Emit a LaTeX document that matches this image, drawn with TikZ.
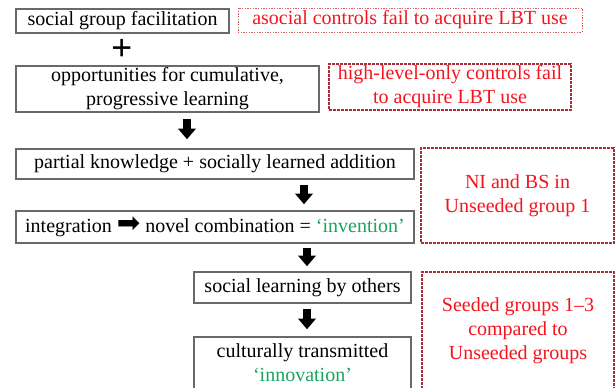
\documentclass[tikz,border=0pt]{standalone}
\usepackage{fontspec}
\setmainfont{Liberation Serif}
\newfontfamily\symfont{DejaVu Sans}
\usetikzlibrary{arrows.meta,calc}

\definecolor{boxgray}{RGB}{105,105,105}
\definecolor{ctrlred}{RGB}{245,20,30}
\definecolor{ctrlframe}{RGB}{170,45,55}
\definecolor{dotframe}{RGB}{215,95,100}
\definecolor{inventgreen}{RGB}{25,165,95}

\tikzset{every picture/.style={line width=0.75pt},
  stagebox/.style={draw=boxgray,line width=1.1pt,inner sep=0pt,align=center,font=\fontsize{15}{18}\selectfont},
  ctrlbox/.style={draw=ctrlframe,dash pattern=on 2pt off 1pt,line width=1.1pt,inner sep=0pt,align=center,text=ctrlred,font=\fontsize{15}{18}\selectfont},
  bigarrow/.style={line width=5.5pt,-{Triangle[width=13pt,length=8pt]}}
}

\begin{document}
\begin{tikzpicture}[x=0.75pt,y=0.75pt,yscale=-1,xscale=1]
        \useasboundingbox (0,0) rectangle (615,387);

        %Shape: Rectangle [id:box1]
        \node [stagebox,minimum width=159.75pt,minimum height=18pt] (facil) at (122.5,21) {social group facilitation};
        %Shape: Rectangle [id:red1]
        \node [ctrlbox,draw=dotframe,line width=0.6pt,dash pattern=on 1pt off 1pt,minimum width=258pt,minimum height=18pt] (asocial) at (410,20) {asocial controls fail to acquire LBT use};

        % Text Node
        \node [inner sep=0pt,font=\fontsize{28}{28}\selectfont\bfseries] (plus) at (122,50) {+};

        %Shape: Rectangle [id:box2]
        \node [stagebox,minimum width=227.25pt,minimum height=34.5pt] (oppor) at (167.5,89) {opportunities for cumulative,\\progressive learning};
        %Shape: Rectangle [id:red2]
        \node [ctrlbox,minimum width=181.5pt,minimum height=34.5pt] (highlvl) at (450,87) {high-level-only controls fail\\to acquire LBT use};

        %Shape: Rectangle [id:box3]
        \node [stagebox,minimum width=298.5pt,minimum height=22.5pt] (partial) at (215,164) {partial knowledge + socially learned addition};
        %Shape: Rectangle [id:box4]
        \node [stagebox,minimum width=298.5pt,minimum height=24pt] (integ) at (215,227) {integration {\symfont\fontsize{21}{18}\selectfont ➡} novel combination = \textcolor{inventgreen}{`invention'}};
        %Shape: Rectangle [id:red3]
        \node [ctrlbox,minimum width=144.75pt,minimum height=71.25pt] (unseeded) at (517.5,195.5) {NI and BS in\\Unseeded group 1};

        %Shape: Rectangle [id:box5]
        \node [stagebox,minimum width=162.75pt,minimum height=23.25pt] (social) at (302.5,287.5) {social learning by others};
        %Shape: Rectangle [id:box6]
        \node [stagebox,minimum width=162.75pt,minimum height=39pt] (cultur) at (302.5,363) {culturally transmitted\\\textcolor{inventgreen}{`innovation'}};
        %Shape: Rectangle [id:red4]
        \node [ctrlbox,minimum width=144pt,minimum height=88.5pt] (seeded) at (518,331) {Seeded groups 1--3\\compared to\\Unseeded groups};

        %Straight Lines [id:arrows]
        \draw [bigarrow] ($(oppor.south)+(19.5,6)$) -- ($(partial.north)+(-28,-9)$);
        \draw [bigarrow] ($(partial.south)+(89,5)$) -- ($(integ.north)+(89,-6)$);
        \draw [bigarrow] ($(integ.south)+(92,4)$) -- ($(social.north)+(4.5,-5)$);
        \draw [bigarrow] ($(social.south)+(4.5,5)$) -- ($(cultur.north)+(4.5,-7)$);

\end{tikzpicture}
\end{document}
